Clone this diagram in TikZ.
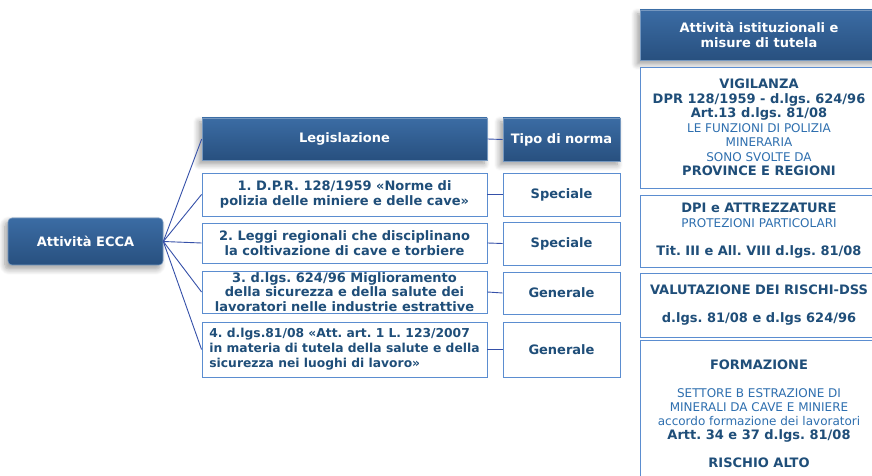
\documentclass[tikz,border=0pt]{standalone}
\usepackage{fontspec}
\setmainfont{DejaVu Sans}
\usepackage{tikz}
\usetikzlibrary{shadows.blur}

\definecolor{hdrtop}{HTML}{3B6CA4}
\definecolor{hdrbot}{HTML}{28507F}
\definecolor{txtdark}{HTML}{1F4E79}
\definecolor{txtlight}{HTML}{2E6FAF}
\definecolor{cellline}{HTML}{5B8DD0}
\definecolor{linkcol}{HTML}{3550A8}

\newcommand{\regtxt}{\mdseries\fontsize{12}{14.5}\selectfont\color{txtlight}}

\tikzset{
  hdr/.style={top color=hdrtop, bottom color=hdrbot, draw=hdrtop!70!white, line width=0.6pt,
    text=white, font=\bfseries\fontsize{13}{15}\selectfont, align=center, inner sep=1pt,
    blur shadow={shadow xshift=-3pt, shadow yshift=-4pt, shadow blur radius=6pt, shadow blur steps=8, shadow opacity=40}},
  cell/.style={fill=white, draw=cellline, line width=0.9pt, text=txtdark,
    font=\bfseries\fontsize{13}{15}\selectfont, align=center, inner sep=1pt},
  link/.style={draw=linkcol, line width=0.9pt}
}

\begin{document}
\frenchspacing
\begin{tikzpicture}[x=1pt,y=1pt]
\useasboundingbox (0,0) rectangle (872,476);
\clip (0,0) rectangle (872,476);

% root
\node[hdr, rounded corners=4pt, minimum width=155pt, minimum height=47pt] (ecca) at (85.5,234.5) {Attività ECCA};

% legislazione
\node[hdr, minimum width=285pt, minimum height=42pt] (legh) at (344.5,337) {Legislazione};
\node[cell, minimum width=285pt, minimum height=43pt] (leg1) at (344.5,281.5) {1. D.P.R. 128/1959 «Norme di\\polizia delle miniere e delle cave»};
\node[cell, minimum width=285pt, minimum height=40pt] (leg2) at (344.5,233) {2. Leggi regionali che disciplinano\\la coltivazione di cave e torbiere};
\node[cell, minimum width=285pt, minimum height=42pt, inner ysep=0pt, font=\bfseries\fontsize{13}{14.5}\selectfont] (leg3) at (344.5,184) {3. d.lgs. 624/96 Miglioramento\\della sicurezza e della salute dei\\lavoratori nelle industrie estrattive};
\node[cell, minimum width=285pt, minimum height=55pt, align=left, font=\bfseries\fontsize{12.3}{15}\selectfont] (leg4) at (344.5,126.5) {4. d.lgs.81/08 «Att. art. 1 L. 123/2007\\in materia di tutela della salute e della\\sicurezza nei luoghi di lavoro»};

% tipo di norma
\node[hdr, minimum width=117pt, minimum height=43pt] (tipoh) at (561.5,336.5) {Tipo di norma};
\node[cell, minimum width=117pt, minimum height=43pt] (tipo1) at (561.5,281.5) {Speciale};
\node[cell, minimum width=117pt, minimum height=43pt] (tipo2) at (561.5,232.5) {Speciale};
\node[cell, minimum width=117pt, minimum height=42pt] (tipo3) at (561.5,183) {Generale};
\node[cell, minimum width=117pt, minimum height=55pt] (tipo4) at (561.5,126.5) {Generale};

% attivita istituzionali
\node[hdr, minimum width=238pt, minimum height=50pt] (mish) at (759,441) {Attività istituzionali e\\misure di tutela};
\node[cell, minimum width=238pt, minimum height=121pt, font=\bfseries\fontsize{13}{14.5}\selectfont] (mis1) at (759,348.5)
  {VIGILANZA\\DPR 128/1959 - d.lgs. 624/96\\Art.13 d.lgs. 81/08\\{\regtxt LE FUNZIONI DI POLIZIA}\\{\regtxt MINERARIA}\\{\regtxt SONO SVOLTE DA}\\PROVINCE E REGIONI};
\node[cell, minimum width=238pt, minimum height=72pt, font=\bfseries\fontsize{13}{14.5}\selectfont] (mis2) at (759,245)
  {DPI e ATTREZZATURE\\{\regtxt PROTEZIONI PARTICOLARI}\\[14pt]Tit. III e All. VIII d.lgs. 81/08};
\node[cell, minimum width=238pt, minimum height=64pt, font=\bfseries\fontsize{13}{14.5}\selectfont] (mis3) at (759,171)
  {VALUTAZIONE DEI RISCHI-DSS\\[14pt]d.lgs. 81/08 e d.lgs 624/96};
\node[cell, minimum width=238pt, minimum height=147pt, font=\bfseries\fontsize{13}{14}\selectfont] (mis4) at (759,62)
  {FORMAZIONE\\[14pt]{\regtxt SETTORE B ESTRAZIONE DI}\\{\regtxt MINERALI DA CAVE E MINIERE}\\{\regtxt accordo formazione dei lavoratori}\\Artt. 34 e 37 d.lgs. 81/08\\[14pt]RISCHIO ALTO};

% connectors
\foreach \n in {legh,leg1,leg2,leg3,leg4}
  \draw[link] (ecca.east) -- (\n.west);
\draw[link] (legh.east) -- (tipoh.west);
\foreach \i in {1,...,4}
  \draw[link] (leg\i.east) -- (tipo\i.west);
\end{tikzpicture}
\end{document}
